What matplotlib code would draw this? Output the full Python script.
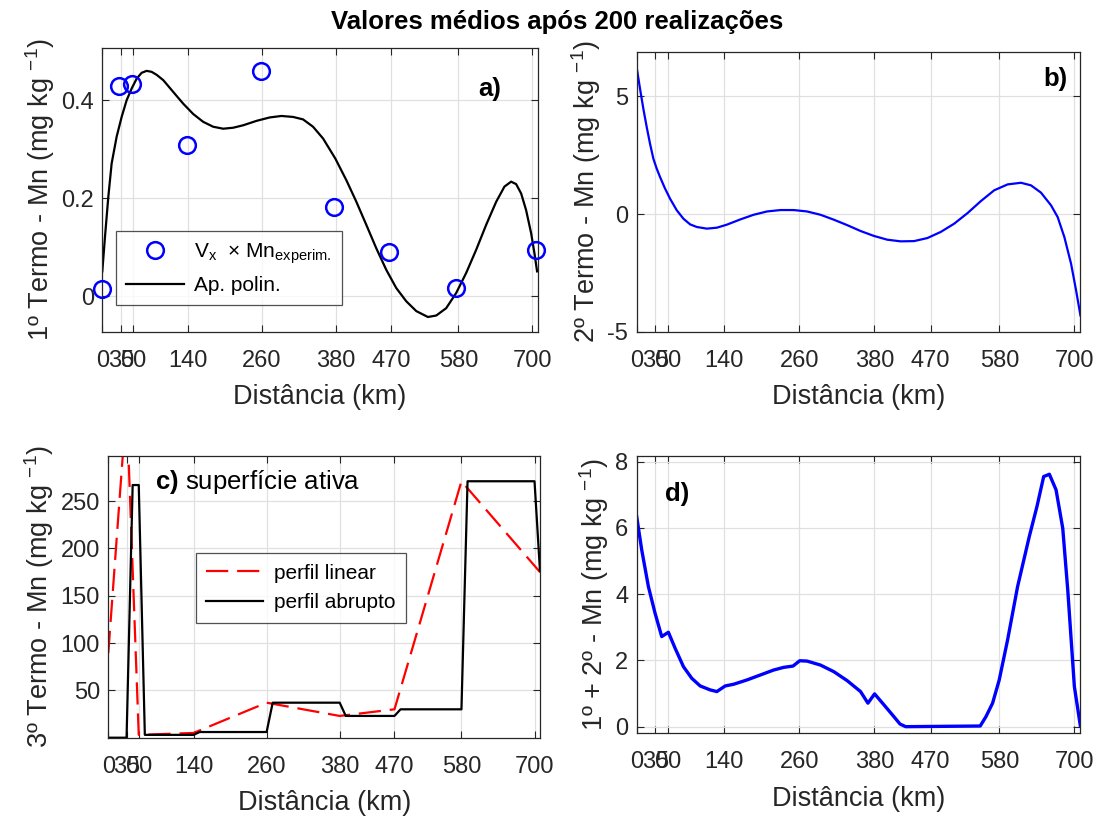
import matplotlib
matplotlib.use("Agg")
import matplotlib.pyplot as plt
import numpy as np

plt.rcParams['font.family'] = ['Liberation Sans', 'DejaVu Sans']
plt.rcParams['mathtext.fontset'] = 'custom'
plt.rcParams['mathtext.rm'] = 'Liberation Sans'
plt.rcParams['mathtext.it'] = 'Liberation Sans'
plt.rcParams['mathtext.bf'] = 'Liberation Sans:bold'

# ---------------- data ----------------
xticks = [0, 30, 50, 140, 260, 380, 470, 580, 700]
xticklabels = ['0', '30', '50', '140', '260', '380', '470', '580', '700']

# panel a: experimental points and polynomial approximation
exp_x = [0, 28, 48, 138, 258, 377, 467, 576, 706]
exp_y = [0.015, 0.430, 0.433, 0.308, 0.460, 0.182, 0.090, 0.018, 0.095]

poly_x = [0, 4.4, 9.8, 15.2, 23.4, 31.5, 39.6, 47.8, 55.9, 64.0, 72.2, 80.3, 88.4,
          99.3, 115.5, 131.8, 148.0, 164.3, 180.6, 196.8, 213.1, 229.4, 251.1,
          272.7, 291.7, 310.7, 326.9, 343.2, 359.5, 379.5, 397.4, 413.7, 429.9,
          446.2, 462.5, 478.7, 495.0, 511.3, 530.2, 543.8, 560.0, 576.3, 592.6,
          608.8, 625.1, 641.4, 654.9, 665.7, 673.9, 682.0, 690.1, 698.3, 703.7, 708.0]
poly_y = [0.051, 0.122, 0.203, 0.271, 0.326, 0.366, 0.400, 0.424, 0.444, 0.456,
          0.460, 0.458, 0.452, 0.441, 0.417, 0.393, 0.372, 0.356, 0.346, 0.342,
          0.344, 0.349, 0.358, 0.365, 0.368, 0.366, 0.361, 0.346, 0.322, 0.281,
          0.237, 0.193, 0.146, 0.098, 0.054, 0.017, -0.010, -0.030, -0.042,
          -0.039, -0.024, 0.007, 0.048, 0.095, 0.146, 0.193, 0.224, 0.234,
          0.229, 0.210, 0.176, 0.129, 0.088, 0.051]

# panel b: second term
b_x = [0, 5.3, 10.6, 16.0, 21.3, 26.7, 32.0, 37.4, 45.4, 53.4, 64.1, 74.8, 85.5,
       96.2, 112.2, 128.2, 144.3, 165.6, 187.0, 208.4, 229.8, 251.1, 272.5, 293.9,
       315.3, 336.6, 358.0, 379.4, 400.8, 422.2, 443.5, 464.9, 486.3, 507.7, 529.1,
       550.4, 571.8, 593.2, 614.6, 630.6, 646.6, 662.7, 673.3, 684.0, 694.7, 702.7, 709.7]
b_y = [6.22, 5.33, 4.48, 3.70, 2.99, 2.35, 1.93, 1.57, 1.08, 0.65, 0.16, -0.20, -0.44,
       -0.55, -0.62, -0.58, -0.45, -0.23, -0.03, 0.11, 0.17, 0.17, 0.11, -0.03,
       -0.24, -0.47, -0.72, -0.93, -1.09, -1.16, -1.15, -1.02, -0.76, -0.41, 0.04,
       0.55, 1.01, 1.26, 1.33, 1.22, 0.91, 0.37, -0.13, -0.98, -2.11, -3.24, -4.31]

# panel c: active surface profiles
lin_x = [0, 30, 50, 140, 260, 380, 470, 580, 709]
lin_y = [89.5, 353, 3, 5, 37, 23, 30, 271, 175]

abr_x = [0, 30, 40, 50, 60, 140, 150, 260, 270, 380, 390, 470, 480, 580, 590, 700, 709]
abr_y = [0, 0, 267, 267, 3, 3, 6, 6, 37, 37, 23, 23, 30, 30, 271, 271, 176]

# panel d: first + second term
d_x = [0, 8.0, 18.7, 29.3, 40, 50.7, 61.4, 74.8, 88.1, 101.5, 117.5, 128.2, 141.6,
       154.9, 176.3, 197.7, 219, 235, 250, 260.7, 272.5, 293.9, 315.3, 336.6, 358,
       369.8, 380.5, 395.4, 408.8, 421.1, 430.2, 549.4, 558.5, 569.2, 579.8, 593.2,
       609.2, 627.9, 640.2, 650.9, 660, 670.7, 681.4, 689.4, 700, 709.6]
d_y = [6.34, 5.34, 4.23, 3.43, 2.72, 2.85, 2.37, 1.81, 1.46, 1.23, 1.11, 1.06, 1.23,
       1.28, 1.41, 1.56, 1.71, 1.79, 1.83, 1.99, 1.98, 1.86, 1.66, 1.39, 1.06,
       0.71, 0.99, 0.66, 0.36, 0.08, 0.0, 0.02, 0.30, 0.71, 1.41, 2.62,
       4.23, 5.74, 6.65, 7.55, 7.62, 7.15, 5.99, 4.13, 1.21, 0.02]

# ---------------- figure ----------------
W, H = 1100, 819
fig = plt.figure(figsize=(W / 100, H / 100), dpi=100)

def rect(l, t, r, b):
    return [l / W, 1 - b / H, (r - l) / W, (b - t) / H]

TXT = '#262626'
TICKFS = 17
LABFS = 19.5
PANFS = 18.5

def style(ax, ylim, yticks, yticklabels, ylabel):
    ax.set_xlim(0, 709)
    ax.set_ylim(*ylim)
    ax.set_xticks(xticks)
    ax.set_xticklabels(xticklabels)
    ax.set_yticks(yticks)
    ax.set_yticklabels(yticklabels)
    ax.grid(True, color='#e0e0e0', linewidth=0.9)
    ax.set_axisbelow(True)
    ax.tick_params(direction='in', top=True, right=True, length=5, width=0.8,
                   colors=TXT, labelsize=TICKFS)
    ax.tick_params(axis='x', pad=13)
    ax.tick_params(axis='y', pad=6)
    for s in ax.spines.values():
        s.set_color(TXT)
        s.set_linewidth(0.9)
    ax.set_xlabel('Distância (km)', fontsize=LABFS, color=TXT, labelpad=9)
    ax.set_ylabel(ylabel, fontsize=LABFS, color=TXT, labelpad=3)

legkw = dict(borderaxespad=0, fontsize=15, frameon=True, fancybox=False,
             edgecolor=TXT, handlelength=2.75, handletextpad=0.5,
             borderpad=0.5, labelspacing=0.5)

# panel a
axa = fig.add_axes(rect(102.3, 48.3, 537.7, 331.7))
axa.plot(exp_x, exp_y, 'o', mfc='none', mec='#0000ff', ms=12, mew=1.8,
         label=r'V$_\mathregular{x}$  $\times$ Mn$_\mathregular{experim.}$', clip_on=False, zorder=3)
axa.plot(poly_x, poly_y, '-', color='black', lw=1.6, label='Ap. polin.')
style(axa, (-0.072, 0.506), [0, 0.2, 0.4], ['0', '0.2', '0.4'],
      r'1º Termo - Mn (mg kg $^{-1}$)')
axa.text(613, 0.424, 'a)', fontsize=PANFS, fontweight='bold', va='center', ha='left')
leg = axa.legend(loc='upper left', bbox_to_anchor=(0.0315, 0.3564), **legkw)
leg.get_frame().set_linewidth(0.9)

# panel b
axb = fig.add_axes(rect(636.7, 51.7, 1080, 331.7))
axb.plot(b_x, b_y, '-', color='#0000ff', lw=1.6)
style(axb, (-5, 6.9), [-5, 0, 5], ['-5', '0', '5'], r'2º Termo - Mn (mg kg $^{-1}$)')
axb.text(651, 5.75, 'b)', fontsize=PANFS, fontweight='bold', va='center', ha='left')

# panel c
axc = fig.add_axes(rect(108.3, 455.7, 540, 737.7))
axc.plot(lin_x, lin_y, '--', color='#ff0000', lw=1.6, dashes=(10, 4), label='perfil linear')
axc.plot(abr_x, abr_y, '-', color='black', lw=1.6, label='perfil abrupto')
style(axc, (0, 298), [50, 100, 150, 200, 250], ['50', '100', '150', '200', '250'],
      r'3º Termo - Mn (mg kg $^{-1}$)')
axc.text(76, 270, r'$\mathbf{c)}$ superfície ativa', fontsize=PANFS, va='center', ha='left')
leg = axc.legend(loc='upper left', bbox_to_anchor=(0.2025, 0.654), **legkw)
leg.get_frame().set_linewidth(0.9)

# panel d
axd = fig.add_axes(rect(636.7, 455.7, 1080, 733.3))
axd.plot(d_x, d_y, '-', color='#0000ff', lw=2.4)
style(axd, (-0.2, 8.18), [0, 2, 4, 6, 8], ['0', '2', '4', '6', '8'],
      r'1º + 2º - Mn (mg kg $^{-1}$)')
axd.text(45, 7.03, 'd)', fontsize=PANFS, fontweight='bold', va='center', ha='left')

fig.text(557.5 / W, 1 - 22 / H, 'Valores médios após 200 realizações', fontsize=18.5,
         fontweight='bold', ha='center', va='center')

fig.savefig('out.png', dpi=100)
